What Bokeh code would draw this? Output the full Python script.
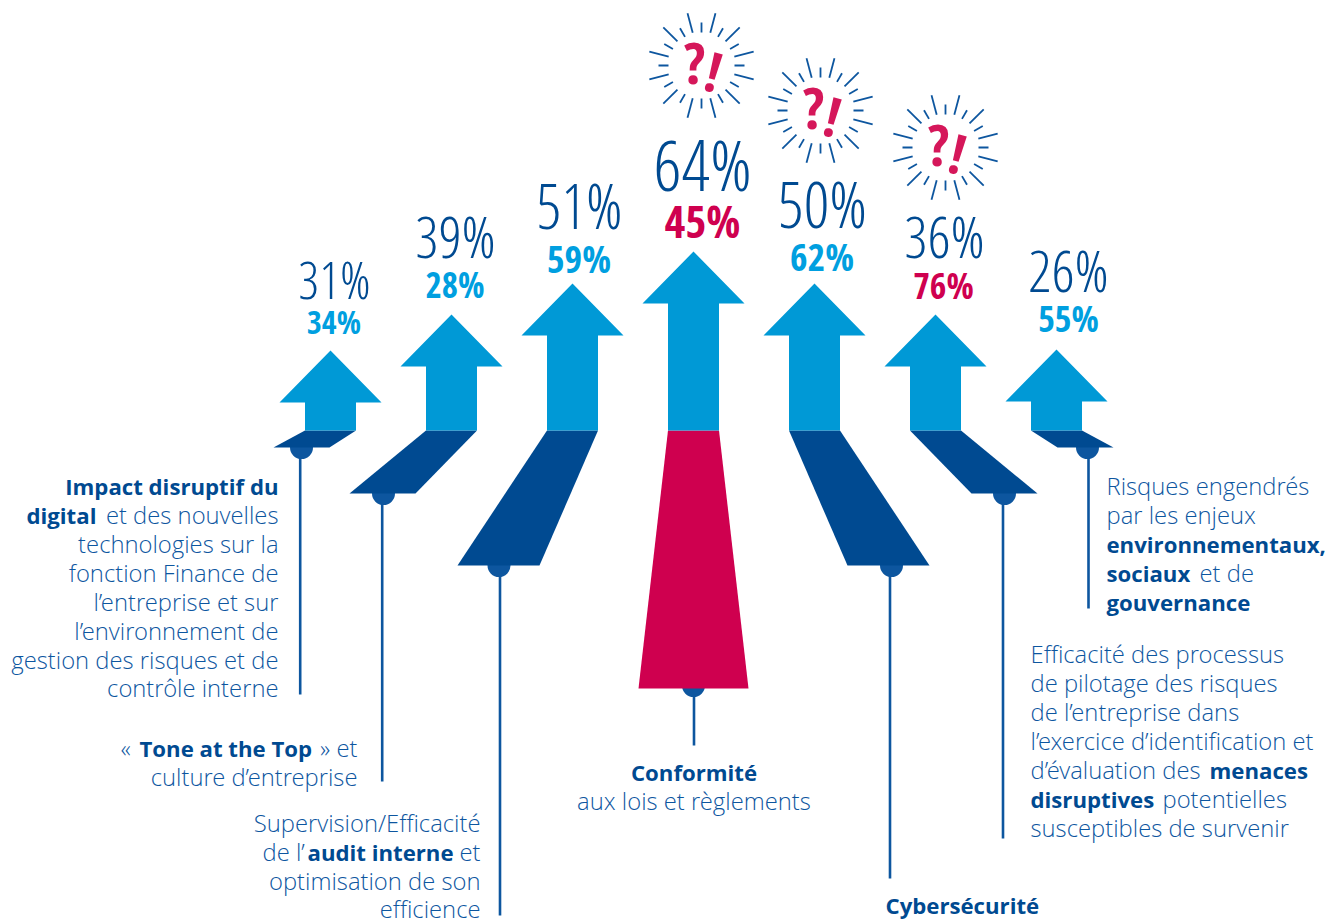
import math
from bokeh.embed import file_html
from bokeh.models import Range1d
from bokeh.plotting import figure
from bokeh.resources import INLINE
from bokeh.core.properties import value

# Survey results, one column per risk topic
topics = ["Impact disruptif du digital", "Tone at the Top", "Audit interne", "Conformité",
          "Cybersécurité", "Menaces disruptives", "Enjeux ESG"]
top_values = [31, 39, 51, 64, 50, 36, 26]
bold_values = [34, 28, 59, 45, 62, 76, 55]
bold_is_red = [False, False, False, True, False, True, False]

NAVY = "#004a91"
LINE = "#0d569f"
CYAN = "#0099d6"
CYAN_TXT = "#009fe0"
RED = "#cf004f"
QMARK = "#d5175a"

# Column geometry in page pixels
centers = [330, 451, 572, 693, 814, 935, 1056]
arrow_heights = [80, 116, 147, 179, 147, 116, 81]
foot_y = [447, 493, 565, 688, 565, 493, 447]
foot_left = [273, 349, 457, 638, 847, 971, 1057]
foot_right = [329, 415, 539, 748, 929, 1037, 1113]
dot_x = [301, 383, 498.5, 693, 891, 1004, 1087]
dot_y = [447, 493, 565, 685, 565, 493, 447]
stem_x = [299.7, 381.7, 499.5, 693.5, 889.5, 1002.5, 1088]
stem_end = [694, 781, 915, 745, 878, 838, 608]
big_base = [298, 258, 229, 191, 228, 258, 292]
big_size = [52, 58, 62, 71, 64, 58, 58]
big_x = [334, 455, 579, 702, 822, 944, 1068]
small_base = [333, 298, 272, 237, 270, 299, 332]
small_size = [32, 35, 38, 45, 38, 36, 36]
small_x = [333.5, 454.5, 578.5, 702, 821.5, 943, 1068]
burst_centers = {3: (701, 65), 4: (820, 110), 5: (945, 147)}

BASE_Y = 430
SHAFT = 25.5
HEAD = 51
HEAD_H = 52
CENTRAL = 0.388  # distance from the baseline to the middle of the line box, in em


def mid(baseline, size):
    return baseline - CENTRAL * size


p = figure(width=1339, height=922, x_range=Range1d(0, 1339), y_range=Range1d(922, 0),
           output_backend="svg", toolbar_location=None, min_border=0,
           x_axis_type=None, y_axis_type=None, outline_line_color=None)
p.grid.visible = False

# Stems and the discs they hang from
p.segment(stem_x, dot_y, stem_x, stem_end, line_color=LINE, line_width=2.6)
p.circle(dot_x, dot_y, radius=11.5, fill_color=LINE, line_color=None)

# Receding feet of each arrow
for i, c in enumerate(centers):
    xs = [c - SHAFT, c + SHAFT, foot_right[i], foot_left[i]]
    ys = [BASE_Y, BASE_Y, foot_y[i], foot_y[i]]
    p.patch(xs, ys, fill_color=RED if i == 3 else NAVY, line_color=None)

# Arrows rising from the common baseline
for c, h in zip(centers, arrow_heights):
    tip = BASE_Y - h
    xs = [c - SHAFT, c - SHAFT, c - HEAD, c, c + HEAD, c + SHAFT, c + SHAFT]
    ys = [BASE_Y, tip + HEAD_H, tip + HEAD_H, tip, tip + HEAD_H, tip + HEAD_H, BASE_Y]
    p.patch(xs, ys, fill_color=CYAN, line_color=None)

# Percentages above each arrow
LIGHT_NARROW = value("Open Sans Condensed Light")
BOLD_NARROW = value("Open Sans Condensed")
for i, v in enumerate(top_values):
    p.text([big_x[i]], [mid(big_base[i], big_size[i])], text=[f"{v}%"], text_font=LIGHT_NARROW,
           text_font_size=f"{big_size[i]}px", text_color=NAVY, text_align="center",
           text_baseline="middle")
    p.text([small_x[i]], [mid(small_base[i], small_size[i])], text=[f"{bold_values[i]}%"],
           text_font=BOLD_NARROW, text_font_style="bold", text_font_size=f"{small_size[i]}px",
           text_color=RED if bold_is_red[i] else CYAN_TXT,
           text_align="center", text_baseline="middle")

# Starburst with a question and exclamation mark over the flagged topics
for i, (cx, cy) in burst_centers.items():
    x0, y0, x1, y1 = [], [], [], []
    for k in range(24):
        a = math.radians(k * 15)
        r0, r1 = (33, 43) if k % 2 == 0 else (34, 54)
        x0.append(cx + r0 * math.sin(a)); y0.append(cy - r0 * math.cos(a))
        x1.append(cx + r1 * math.sin(a)); y1.append(cy - r1 * math.cos(a))
    p.segment(x0, y0, x1, y1, line_color=LINE, line_width=1.8)
    p.text([cx - 7], [cy - 4], text=["?"], text_font=BOLD_NARROW, text_font_style="bold",
           text_font_size="58px", text_color=QMARK, text_align="center", text_baseline="middle")
    p.text([cx + 12.5], [cy + 5], text=["!"], text_font=BOLD_NARROW, text_font_style="bold",
           text_font_size="55px", text_color=QMARK, text_align="center", text_baseline="middle",
           angle=[-15], angle_units="deg")

# Caption runs: text, bold flag, x, alignment, baseline
captions = [
    ("Impact disruptif du", True, 278, "right", 495),
    ("digital", True, 26, "left", 524), ("et des nouvelles", False, 278, "right", 524),
    ("technologies sur la", False, 278, "right", 553),
    ("fonction Finance de", False, 278, "right", 582),
    ("l’entreprise et sur", False, 278, "right", 611),
    ("l’environnement de", False, 278, "right", 640),
    ("gestion des risques et de", False, 278, "right", 669),
    ("contrôle interne", False, 278, "right", 697),
    ("«", False, 120, "left", 757), ("Tone at the Top", True, 139, "left", 757),
    ("» et", False, 357, "right", 757),
    ("culture d’entreprise", False, 357, "right", 786),
    ("Supervision/Efficacité", False, 480, "right", 832),
    ("de l’", False, 262, "left", 861), ("audit interne", True, 307, "left", 861),
    ("et", False, 480, "right", 861),
    ("optimisation de son", False, 480, "right", 890),
    ("efficience", False, 480, "right", 918),
    ("Conformité", True, 693.5, "center", 781),
    ("aux lois et règlements", False, 693.5, "center", 810),
    ("Cybersécurité", True, 885, "left", 914),
    ("Risques engendrés", False, 1106, "left", 495),
    ("par les enjeux", False, 1106, "left", 524),
    ("environnementaux,", True, 1106, "left", 553),
    ("sociaux", True, 1106, "left", 582), ("et de", False, 1199, "left", 582),
    ("gouvernance", True, 1106, "left", 611),
    ("Efficacité des processus", False, 1030, "left", 663),
    ("de pilotage des risques", False, 1030, "left", 692),
    ("de l’entreprise dans", False, 1030, "left", 721),
    ("l’exercice d’identification et", False, 1030, "left", 750),
    ("d’évaluation des", False, 1030, "left", 779), ("menaces", True, 1209, "left", 779),
    ("disruptives", True, 1030, "left", 808), ("potentielles", False, 1162, "left", 808),
    ("susceptibles de survenir", False, 1030, "left", 837),
]
REGULAR_PX = 23.8
BOLD_PX = 22.2
for txt, bold, x, align, y in captions:
    size = BOLD_PX if bold else REGULAR_PX
    p.text([x], [mid(y - 0.5, size)], text=[txt],
           text_font=value("Open Sans" if bold else "Open Sans Light"),
           text_font_style="bold" if bold else "normal", text_font_size=f"{size}px",
           text_color=NAVY if bold else "#0d569f", text_align=align, text_baseline="middle")

open("out.html", "w").write(file_html(p, INLINE))
